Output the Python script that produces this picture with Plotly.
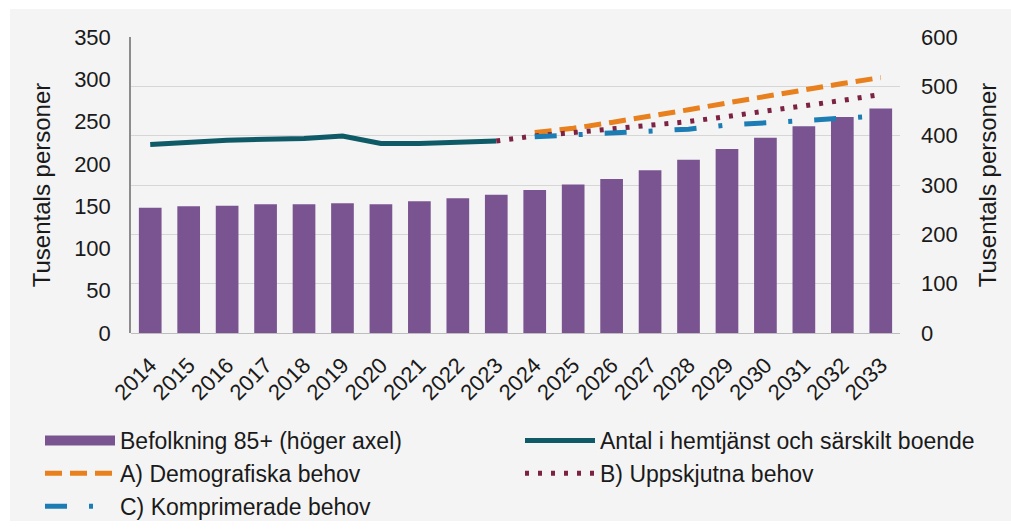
import plotly.graph_objects as go

# ---- data ----
years = ["2014", "2015", "2016", "2017", "2018", "2019", "2020", "2021", "2022", "2023",
         "2024", "2025", "2026", "2027", "2028", "2029", "2030", "2031", "2032", "2033"]
befolkning_85 = [254, 257, 258, 261, 261, 263, 261, 267, 273, 280,
                 290, 301, 312, 330, 351, 373, 396, 419, 438, 455]

years_hist = ["2014", "2015", "2016", "2017", "2018", "2019", "2020", "2021", "2022", "2023"]
antal_hemtjanst = [223, 226, 228, 229, 230, 233, 224, 224, 226, 227]

years_a = ["2024", "2025", "2026", "2027", "2028", "2029", "2030", "2031", "2032", "2033"]
demografiska = [237, 242, 249, 256, 264, 272, 280, 287, 295, 302]

years_b = ["2023", "2024", "2025", "2026", "2027", "2028", "2029", "2030", "2031", "2032", "2033"]
uppskjutna = [227, 233, 237, 241, 245, 250, 256, 262, 268, 275, 282]

years_c = ["2024", "2025", "2026", "2027", "2028", "2029", "2030", "2031", "2032", "2033"]
komprimerade = [232, 234, 236, 238, 241, 246, 248, 251, 254, 257]

# ---- style ----
FONT = "Liberation Sans, Arial, sans-serif"
PURPLE = "#7a5490"
TEAL = "#0e5a66"
ORANGE = "#e8801e"
MAROON = "#7c2242"
BLUE = "#1c7db4"
BG = "#f4f4f4"

fig = go.Figure()

# bars on primary axis (placed on the right side, "höger axel")
fig.add_trace(go.Bar(
    x=years, y=befolkning_85, name="Befolkning 85+ (höger axel)",
    marker=dict(color=PURPLE, line=dict(width=0)),
    yaxis="y", showlegend=False,
))
# legend proxy for bars (wide swatch)
fig.add_trace(go.Scatter(
    x=[None], y=[None], mode="lines", name="Befolkning 85+ (höger axel)",
    line=dict(color=PURPLE, width=13), yaxis="y", legend="legend",
))
fig.add_trace(go.Scatter(
    x=years_hist, y=antal_hemtjanst, mode="lines",
    name="Antal i hemtjänst och särskilt boende",
    line=dict(color=TEAL, width=5), yaxis="y2", legend="legend2",
))
fig.add_trace(go.Scatter(
    x=years_a, y=demografiska, mode="lines", name="A) Demografiska behov",
    line=dict(color=ORANGE, width=5, dash="17px,8px"), yaxis="y2", legend="legend",
))
fig.add_trace(go.Scatter(
    x=years_b, y=uppskjutna, mode="lines", name="B) Uppskjutna behov",
    line=dict(color=MAROON, width=5, dash="4px,9px"), yaxis="y2", legend="legend2",
))
fig.add_trace(go.Scatter(
    x=years_c, y=komprimerade, mode="lines", name="C) Komprimerade behov",
    line=dict(color=BLUE, width=5, dash="22px,22px,4px,22px"), yaxis="y2", legend="legend",
))

W, H = 1011, 529
ML, MR, MT, MB = 131, 111, 37, 196
PW, PH = W - ML - MR, H - MT - MB

def px_x(px):
    return (px - ML) / PW

def px_y(py):
    return 1 - (py - MT) / PH

legend_common = dict(
    orientation="v", font=dict(family=FONT, size=23, color="#1a1a1a"),
    bgcolor="rgba(0,0,0,0)", itemwidth=70, tracegroupgap=0,
    xanchor="left", yanchor="top", itemclick=False,
)

fig.update_layout(
    width=W, height=H,
    margin=dict(l=ML, r=MR, t=MT, b=MB, autoexpand=False),
    paper_bgcolor=BG, plot_bgcolor="rgba(0,0,0,0)",
    font=dict(family=FONT, size=22, color="#1a1a1a"),
    bargap=0.41,
    xaxis=dict(
        type="category", range=[-0.5, 19.5], tickangle=-45,
        tickfont=dict(size=22), showgrid=False, showline=False, zeroline=False,
        ticks="", ticklabelstandoff=14,
    ),
    yaxis=dict(
        side="right", range=[0, 600], dtick=100, tick0=0,
        showgrid=True, gridcolor="#d6d6d6", gridwidth=1.2,
        zeroline=True, zerolinecolor="#bdbdbd", zerolinewidth=1.2,
        showline=False, ticks="", ticklabelstandoff=20,
        tickfont=dict(size=22),
        title=dict(text="Tusentals personer", font=dict(size=24), standoff=22),
    ),
    yaxis2=dict(
        overlaying="y", side="left", range=[0, 350], dtick=50, tick0=0,
        showgrid=False, zeroline=False,
        showline=True, linecolor="#8c8c8c", linewidth=1.5,
        ticks="", ticklabelstandoff=14,
        tickfont=dict(size=22),
        title=dict(text="Tusentals personer", font=dict(size=24), standoff=17),
    ),
    legend=dict(x=px_x(40), y=px_y(419), **legend_common),
    legend2=dict(x=px_x(520), y=px_y(419), **legend_common),
    shapes=[
        dict(type="rect", xref="paper", yref="paper", layer="below",
             x0=px_x(0), x1=px_x(W), y0=px_y(0), y1=px_y(9),
             fillcolor="white", line=dict(width=0)),
        dict(type="rect", xref="paper", yref="paper", layer="below",
             x0=px_x(0), x1=px_x(10), y0=px_y(0), y1=px_y(H),
             fillcolor="white", line=dict(width=0)),
        dict(type="rect", xref="paper", yref="paper", layer="below",
             x0=px_x(0), x1=px_x(W), y0=px_y(521), y1=px_y(H),
             fillcolor="white", line=dict(width=0)),
    ],
)

fig.write_html(
    "out.html",
    config={"displayModeBar": False},
    post_script="document.body.style.margin='0';document.body.style.overflow='hidden';",
)
